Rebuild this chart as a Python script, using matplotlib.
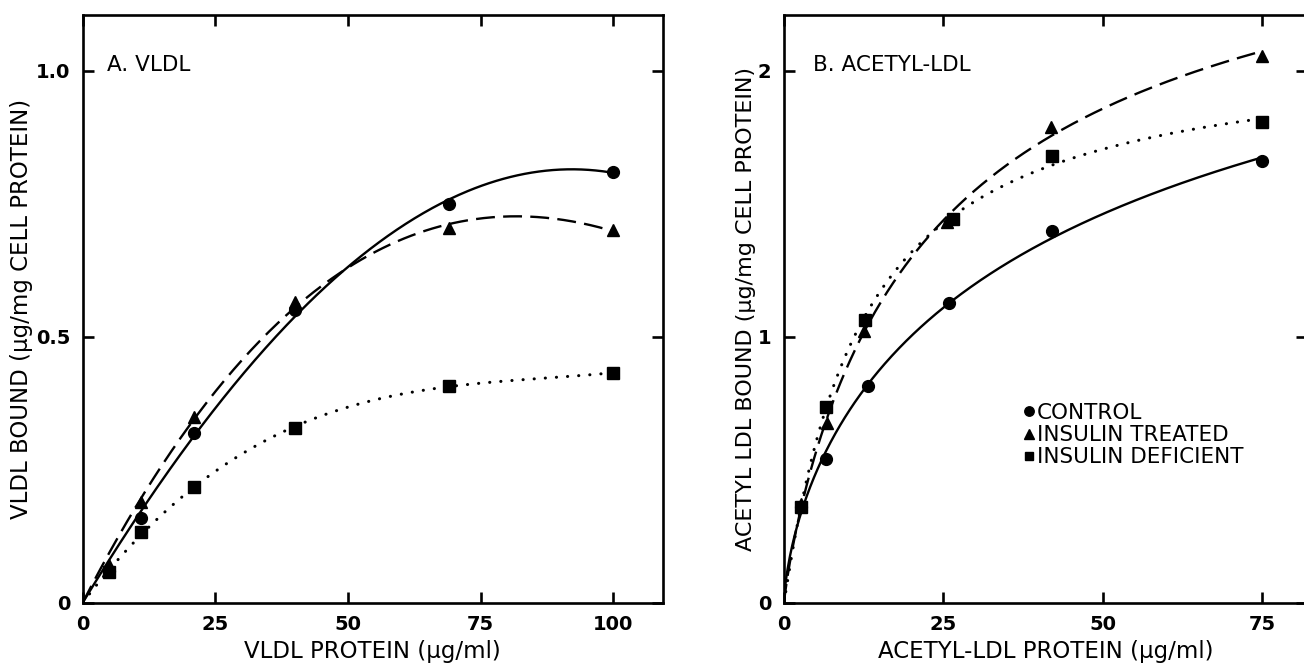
import numpy as np
import matplotlib
matplotlib.use("Agg")
import matplotlib.pyplot as plt

plt.rcParams['font.family'] = ['DejaVu Sans']

# panel A: VLDL
vldl_x = [5, 11, 21, 40, 69, 100]
vldl_control = [0.06, 0.16, 0.32, 0.55, 0.75, 0.81]
vldl_treated = [0.07, 0.19, 0.35, 0.565, 0.705, 0.70]
vldl_deficient = [0.058, 0.133, 0.218, 0.328, 0.408, 0.432]

# panel B: acetyl-LDL
acetyl_x_control = [2.6, 6.6, 13.1, 25.9, 42.1, 75]
acetyl_control = [0.36, 0.54, 0.815, 1.126, 1.396, 1.662]
acetyl_x_treated = [2.6, 6.7, 12.6, 25.5, 41.9, 74.9]
acetyl_treated = [0.37, 0.675, 1.022, 1.433, 1.79, 2.057]
acetyl_x_deficient = [2.6, 6.6, 12.7, 26.5, 42.0, 75]
acetyl_deficient = [0.36, 0.737, 1.062, 1.444, 1.678, 1.806]

vldl_xticks = [0, 25, 50, 75, 100]
vldl_yticks = [0, 0.5, 1.0]
vldl_yticklabels = ['0', '0.5', '1.0']
acetyl_xticks = [0, 25, 50, 75]
acetyl_yticks = [0, 1, 2]

group_names = ['CONTROL', 'INSULIN TREATED', 'INSULIN DEFICIENT']


def poly_curve(x, y, xmax):
    # cubic least squares fit through the origin
    x = np.asarray(x, float)
    y = np.asarray(y, float)
    A = np.column_stack([x, x ** 2, x ** 3])
    coef, *_ = np.linalg.lstsq(A, y, rcond=None)
    xs = np.linspace(0, xmax, 300)
    return xs, np.column_stack([xs, xs ** 2, xs ** 3]) @ coef


def binding_curve(x, y, xmax):
    # saturation fit y = Bmax x^n / (K^n + x^n), simple grid search
    x = np.asarray(x, float)
    y = np.asarray(y, float)
    best = None
    for n in np.linspace(0.4, 1.3, 91):
        for K in np.linspace(1, 150, 300):
            f = x ** n / (K ** n + x ** n)
            bmax = (f @ y) / (f @ f)
            err = np.sum((bmax * f - y) ** 2)
            if best is None or err < best[0]:
                best = (err, n, K, bmax)
    _, n, K, bmax = best
    xs = np.linspace(0, xmax, 400)
    return xs, bmax * xs ** n / (K ** n + xs ** n)


solid = dict(color='black', lw=1.7, linestyle='-')
dashed = dict(color='black', lw=1.7, linestyle=(0, (8, 3.5)))
dotted = dict(color='black', lw=2.2, linestyle=(0, (0.05, 3.6)), dash_capstyle='round')


def style_axes(ax):
    for s in ax.spines.values():
        s.set_linewidth(1.9)
    ax.tick_params(direction='in', length=8, width=1.9, top=True, right=True,
                   labeltop=False, labelright=False, labelsize=14, pad=9)
    for lab in ax.get_xticklabels() + ax.get_yticklabels():
        lab.set_fontweight('bold')


fig = plt.figure(figsize=(13.04, 6.64), dpi=100)

# ---- panel A
ax1 = fig.add_axes([0.0634, 0.0923, 0.4448, 0.8851])
xs, ys = poly_curve(vldl_x, vldl_control, 100)
ax1.plot(xs, ys, **solid)
xs, ys = poly_curve(vldl_x, vldl_treated, 100)
ax1.plot(xs, ys, **dashed)
xs, ys = poly_curve(vldl_x, vldl_deficient, 100)
ax1.plot(xs, ys, **dotted)
ax1.plot(vldl_x, vldl_deficient, 's', color='black', ms=8)
ax1.plot(vldl_x, vldl_treated, '^', color='black', ms=8.5)
ax1.plot(vldl_x, vldl_control, 'o', color='black', ms=8.5)
ax1.set_xlim(0, 109.3)
ax1.set_ylim(0, 1.105)
ax1.set_xticks(vldl_xticks)
ax1.set_yticks(vldl_yticks)
ax1.set_yticklabels(vldl_yticklabels)
style_axes(ax1)
ax1.set_xlabel('VLDL PROTEIN (µg/ml)', fontsize=16.5, labelpad=4)
ax1.set_ylabel('VLDL BOUND (µg/mg CELL PROTEIN)', fontsize=16.5, labelpad=2)
ax1.text(0.042, 0.915, 'A. VLDL', transform=ax1.transAxes, fontsize=15.5, va='center')

# ---- panel B
ax2 = fig.add_axes([0.6012, 0.0923, 0.401, 0.8851])
xs, ys = binding_curve(acetyl_x_control, acetyl_control, 75)
ax2.plot(xs, ys, **solid)
xs, ys = binding_curve(acetyl_x_treated, acetyl_treated, 75)
ax2.plot(xs, ys, **dashed)
xs, ys = binding_curve(acetyl_x_deficient, acetyl_deficient, 75)
ax2.plot(xs, ys, **dotted)
m3, = ax2.plot(acetyl_x_deficient, acetyl_deficient, 's', color='black', ms=8)
m2, = ax2.plot(acetyl_x_treated, acetyl_treated, '^', color='black', ms=8.5)
m1, = ax2.plot(acetyl_x_control, acetyl_control, 'o', color='black', ms=8.5)
ax2.set_xlim(0, 82)
ax2.set_ylim(0, 2.21)
ax2.set_xticks(acetyl_xticks)
ax2.set_yticks(acetyl_yticks)
style_axes(ax2)
ax2.set_xlabel('ACETYL-LDL PROTEIN (µg/ml)', fontsize=16.5, labelpad=4)
ax2.set_ylabel('ACETYL LDL BOUND (µg/mg CELL PROTEIN)', fontsize=16, labelpad=1)
ax2.text(0.055, 0.915, 'B. ACETYL-LDL', transform=ax2.transAxes, fontsize=15.5, va='center')

ax2.legend([m1, m2, m3], group_names, loc='upper left', bbox_to_anchor=(0.457, 0.34),
           frameon=False, fontsize=15.5, markerscale=0.8, handlelength=0.6,
           handletextpad=0.05, labelspacing=0.1, borderpad=0, borderaxespad=0)

fig.savefig('out.png', dpi=100)
